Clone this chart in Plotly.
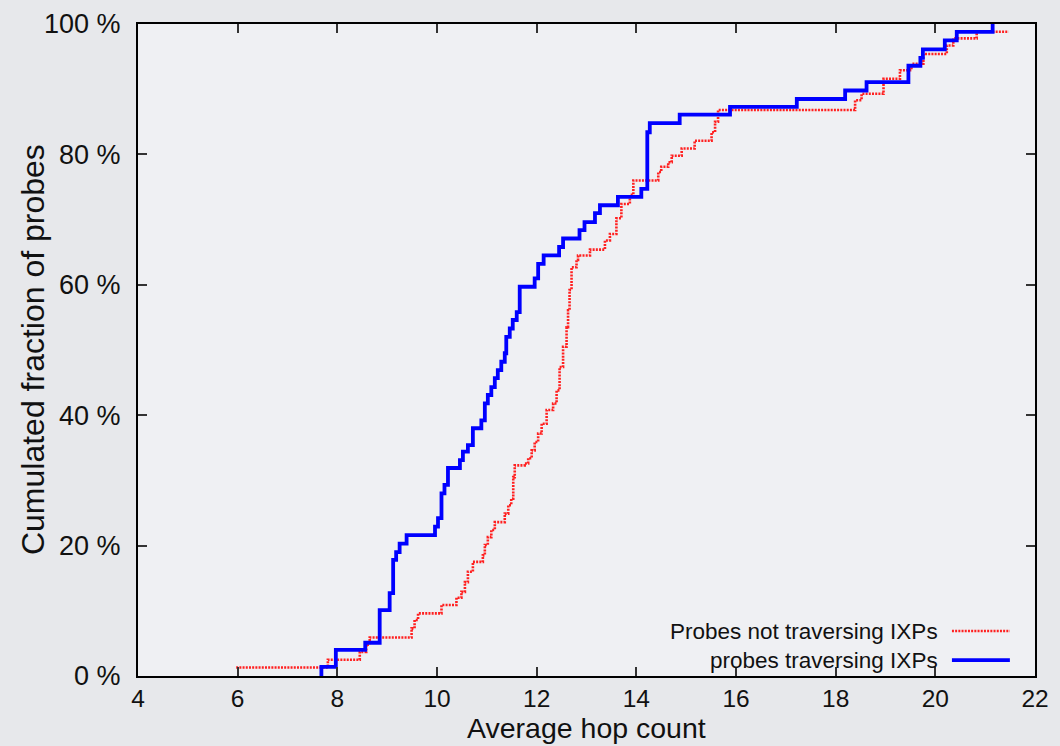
import plotly.graph_objects as go

# Step points (x = average hop count, y = cumulated fraction in %)
ixp_x = [7.68, 7.68, 7.97, 8.56, 8.85, 9.05, 9.12, 9.18, 9.25, 9.39, 9.96, 10.02, 10.09, 10.15,
         10.22, 10.46, 10.52, 10.62, 10.72, 10.89, 10.96, 11.02, 11.09, 11.16, 11.22, 11.29,
         11.36, 11.39, 11.46, 11.52, 11.60, 11.66, 11.96, 12.03, 12.14, 12.45, 12.53, 12.86,
         12.96, 13.17, 13.27, 13.63, 14.10, 14.22, 14.27, 14.87, 15.88, 17.22, 18.19, 18.62,
         19.46, 19.70, 19.75, 20.19, 20.43, 21.15]
ixp_y = [0.0, 1.4, 4.0, 5.1, 10.1, 12.7, 17.8, 19.0, 20.3, 21.6, 22.9, 24.2, 28.0, 29.3,
         31.9, 33.1, 34.4, 35.4, 38.0, 39.2, 41.8, 43.1, 44.3, 45.7, 46.9, 48.2,
         49.5, 52.0, 53.3, 54.6, 55.8, 59.7, 61.0, 63.2, 64.5, 65.8, 67.1, 68.4,
         69.6, 71.0, 72.2, 73.5, 74.7, 83.4, 84.8, 86.1, 87.3, 88.5, 89.8, 91.1,
         93.6, 94.8, 96.1, 97.5, 98.8, 100.0]

noixp_x = [5.97, 7.81, 8.45, 8.58, 8.65, 9.49, 9.55, 9.62, 10.09, 10.39, 10.49, 10.56, 10.62,
           10.72, 10.92, 10.96, 11.02, 11.09, 11.16, 11.36, 11.43, 11.49, 11.53, 11.56, 11.76,
           11.83, 11.90, 11.96, 12.03, 12.10, 12.20, 12.33, 12.40, 12.46, 12.53, 12.60, 12.63,
           12.66, 12.70, 12.80, 12.83, 13.07, 13.37, 13.47, 13.60, 13.70, 13.87, 13.94, 14.44,
           14.50, 14.64, 14.71, 14.91, 15.17, 15.51, 15.58, 15.64, 18.39, 18.52, 18.96, 19.29,
           19.52, 19.76, 20.23, 20.36, 20.83, 21.47]
noixp_y = [1.3, 2.5, 3.7, 4.8, 5.9, 7.3, 8.6, 9.6, 10.9, 12.0, 12.9, 14.4, 16.0,
           17.5, 18.5, 20.1, 21.3, 22.4, 23.6, 24.9, 26.2, 27.2, 30.5, 32.3, 32.6,
           33.4, 34.6, 35.9, 37.2, 38.7, 40.8, 41.8, 43.8, 47.4, 50.5, 53.5, 56.1,
           59.2, 62.7, 63.8, 64.5, 65.4, 66.8, 67.8, 70.2, 72.4, 73.8, 76.0, 77.3,
           78.1, 78.8, 79.8, 80.9, 82.1, 83.4, 85.0, 86.8, 88.3, 89.3, 91.6, 92.9,
           93.9, 95.4, 96.7, 97.8, 98.8, 98.8]

x_ticks = [4, 6, 8, 10, 12, 14, 16, 18, 20, 22]
y_ticks = [0, 20, 40, 60, 80, 100]
labels = ["Probes not traversing IXPs", "probes traversing IXPs"]
x_title = "Average hop count"
y_title = "Cumulated fraction of probes"
colors = ["#ff2020", "#0000ff"]

FONT = "Liberation Sans, Arial, Helvetica, sans-serif"
RED_DASH = "2px,1.2px"

fig = go.Figure()
fig.add_trace(go.Scatter(x=noixp_x, y=noixp_y, mode="lines", line_shape="hv",
                         line=dict(color=colors[0], width=2.6, dash=RED_DASH),
                         name=labels[0], showlegend=False))
fig.add_trace(go.Scatter(x=ixp_x, y=ixp_y, mode="lines", line_shape="hv",
                         line=dict(color=colors[1], width=3.8),
                         name=labels[1], showlegend=False))

axis_common = dict(showline=True, linecolor="black", linewidth=2, mirror="ticks",
                   ticks="inside", ticklen=9, tickwidth=1.5, tickcolor="#333",
                   showgrid=False, zeroline=False, automargin=False)

fig.update_xaxes(range=[4, 22], tickvals=x_ticks, ticktext=[str(v) for v in x_ticks],
                 tickfont=dict(family=FONT, size=24.5, color="#111"),
                 ticklabelstandoff=0, **axis_common)
fig.update_yaxes(range=[0, 100], tickvals=y_ticks, ticktext=[f"{v} %" for v in y_ticks],
                 tickfont=dict(family=FONT, size=27, color="#111"),
                 ticklabelstandoff=10, **axis_common)

# axis titles
fig.add_annotation(x=0.5, y=-0.079, xref="paper", yref="paper", text=x_title,
                   showarrow=False, xanchor="center", yanchor="middle",
                   font=dict(family=FONT, size=28.5, color="#111"))
fig.add_annotation(x=-0.117, y=0.5, xref="paper", yref="paper", text=y_title,
                   showarrow=False, xanchor="center", yanchor="middle", textangle=-90,
                   font=dict(family=FONT, size=32, color="#111"))

# legend (text right-aligned, sample line on the right, gnuplot style)
fig.add_annotation(x=0.894, y=0.046, xref="paper", yref="paper",
                   text="<br>".join(labels), showarrow=False, align="right",
                   xanchor="right", yanchor="middle",
                   font=dict(family=FONT, size=22.5, color="#111"))
leg_y = [0.069, 0.0245]
for col, yy, dash, w in zip(colors, leg_y, [RED_DASH, "solid"], [2.6, 3.8]):
    fig.add_shape(type="line", xref="paper", yref="paper", x0=0.9074, x1=0.972, y0=yy, y1=yy,
                  line=dict(color=col, width=w, dash=dash))

fig.update_layout(width=1060, height=746,
                  margin=dict(l=138, r=25, t=24, b=70),
                  paper_bgcolor="#e7e8eb", plot_bgcolor="#eff0f3",
                  showlegend=False)

fig.write_html("out.html")
